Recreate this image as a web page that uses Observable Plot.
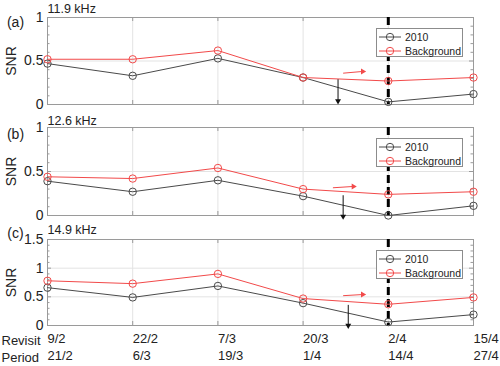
<!DOCTYPE html>
<html>
<head>
<meta charset="utf-8">
<script src="https://cdn.jsdelivr.net/npm/d3@7"></script>
<script src="https://cdn.jsdelivr.net/npm/@observablehq/plot@0.6"></script>
<style>
  html, body { margin: 0; padding: 0; background: #fff; }
  #chart { position: relative; width: 500px; height: 366px; font-family: "Liberation Sans", Arial, sans-serif; overflow: hidden; }
  #chart svg { position: absolute; left: 0; overflow: visible; }
  .legend { position: absolute; background: #fff; border: 1px solid #8c8c8c; box-sizing: border-box; font-size: 10.5px; color: #222; }
  .legend .row { position: absolute; left: 1px; height: 14px; display: flex; align-items: center; }
  .legend svg { position: static !important; }
</style>
</head>
<body>
<div id="chart"></div>
<script>
// ---- data ----
const xIndex = [0, 1, 2, 3, 4, 5];
const revisit = ["9/2", "22/2", "7/3", "20/3", "2/4", "15/4"];
const period = ["21/2", "6/3", "19/3", "1/4", "14/4", "27/4"];
const freqLabels = ["11.9 kHz", "12.6 kHz", "14.9 kHz"];
const panelTags = ["(a)", "(b)", "(c)"];
const seriesNames = ["2010", "Background"];

const snr2010A = [0.47, 0.33, 0.53, 0.31, 0.03, 0.12];
const snrBgA   = [0.52, 0.52, 0.62, 0.31, 0.27, 0.31];
const snr2010B = [0.39, 0.27, 0.40, 0.22, 0.00, 0.11];
const snrBgB   = [0.44, 0.42, 0.54, 0.30, 0.24, 0.27];
const snr2010C = [0.66, 0.49, 0.69, 0.39, 0.06, 0.19];
const snrBgC   = [0.78, 0.73, 0.90, 0.47, 0.37, 0.49];

const yMaxes = [1, 1, 1.5];
const eventIndex = 4; // dashed marker at 2/4

// arrows [x1, y1, x2, y2] in data units
const redArrows   = [[3.47, 0.36, 3.70, 0.38], [3.35, 0.315, 3.59, 0.33], [3.47, 0.52, 3.70, 0.54]];
const blackArrows = [[3.41, 0.29, 3.41, 0.04], [3.47, 0.23, 3.47, -0.01], [3.53, 0.36, 3.53, 0.0]];

// ---- styles / layout ----
const GRAY = "#4a4a4a", RED = "#f24a4a", FRAME = "#9a9a9a", GRID = "#e3e3e3", INK = "#222";
const W = 500, ML = 47, MR = 27;
const FW = W - ML - MR;
const panels = [
  {top: 0,   height: 110, mt: 17, mb: 6,  s2010: snr2010A, sBg: snrBgA, titleDy: -8.5, tagDy: 5},
  {top: 110, height: 110, mt: 17, mb: 5,  s2010: snr2010B, sBg: snrBgB, titleDy: -6.5, tagDy: 7},
  {top: 220, height: 146, mt: 19, mb: 41, s2010: snr2010C, sBg: snrBgC, titleDy: -9.5, tagDy: -6}
];

const chart = document.getElementById("chart");
const font = '"Liberation Sans", Arial, sans-serif';

panels.forEach((p, i) => {
  const yMax = yMaxes[i];
  const FH = p.height - p.mt - p.mb;
  const major = d3.range(0, yMax + 1e-9, 0.5);
  const minor = d3.range(0, yMax + 1e-9, 0.1).filter(v => Math.abs(v * 2 - Math.round(v * 2)) > 1e-6);
  const rows = xIndex.map(k => ({k, a: p.s2010[k], b: p.sBg[k]}));
  const ra = redArrows[i], ba = blackArrows[i];
  const isLast = i === panels.length - 1;

  const marks = [
    Plot.gridX(xIndex, {x: d => d, stroke: GRID, strokeOpacity: 1}),
    Plot.gridY(major.filter(v => v > 0 && v < yMax), {y: d => d, stroke: GRID, strokeOpacity: 1}),
    // inward ticks
    Plot.ruleY(major, {y: d => d, stroke: FRAME, insetRight: FW - 4}),
    Plot.ruleY(major, {y: d => d, stroke: FRAME, insetLeft: FW - 4}),
    Plot.ruleY(minor, {y: d => d, stroke: FRAME, insetRight: FW - 2.5}),
    Plot.ruleY(minor, {y: d => d, stroke: FRAME, insetLeft: FW - 2.5}),
    Plot.ruleX(xIndex, {x: d => d, stroke: FRAME, insetTop: FH - 4}),
    Plot.ruleX(xIndex, {x: d => d, stroke: FRAME, insetBottom: FH - 4}),
    Plot.frame({stroke: FRAME}),
    // dashed event line
    Plot.ruleX([eventIndex], {x: d => d, stroke: "#000", strokeWidth: 3, strokeDasharray: "8,4"}),
    // series
    Plot.line(rows, {x: "k", y: "a", stroke: GRAY, strokeWidth: 1}),
    Plot.dot(rows, {x: "k", y: "a", stroke: GRAY, fill: "none", r: 3.7, strokeWidth: 1}),
    Plot.line(rows, {x: "k", y: "b", stroke: RED, strokeWidth: 1}),
    Plot.dot(rows, {x: "k", y: "b", stroke: RED, fill: "none", r: 3.7, strokeWidth: 1}),
    // arrows
    Plot.link([ra], {x1: d => d[0], y1: d => d[1], x2: d => d[2], y2: d => d[3], stroke: RED, strokeWidth: 1}),
    Plot.dot([ra], {x: d => d[2], y: d => d[3], symbol: "triangle", r: 2.2, fill: RED, stroke: "none", rotate: 90}),
    Plot.link([ba], {x1: d => d[0], y1: d => d[1], x2: d => d[2], y2: d => d[3], stroke: "#111", strokeWidth: 1}),
    Plot.dot([ba], {x: d => d[2], y: d => d[3], symbol: "triangle", r: 2.2, fill: "#111", stroke: "none", rotate: 180}),
    // y axis
    Plot.axisY(major, {tickSize: 0, tickPadding: 4, fontSize: 14, fill: INK,
      tickFormat: d => String(d), label: "SNR", labelAnchor: "center", labelArrow: "none", labelOffset: 41}),
    // titles
    Plot.text([freqLabels[i]], {text: d => d, frameAnchor: "top-left", textAnchor: "start", lineAnchor: "middle", dy: p.titleDy, fontSize: 12.5, fill: INK}),
    Plot.text([panelTags[i]], {text: d => d, frameAnchor: "top-left", textAnchor: "middle", lineAnchor: "middle", dx: -32, dy: p.tagDy, fontSize: 14, fill: INK})
  ];
  if (isLast) {
    marks.push(
      Plot.axisX(xIndex, {anchor: "bottom", tickSize: 0, tickPadding: 0, dy: 8, dx: 0, textAnchor: "start", fontSize: 13, fill: INK, tickFormat: k => revisit[k], label: null}),
      Plot.axisX(xIndex, {anchor: "bottom", tickSize: 0, tickPadding: 0, dy: 25, dx: 0, textAnchor: "start", fontSize: 13, fill: INK, tickFormat: k => period[k], label: null}),
      Plot.text(["Revisit"], {text: d => d, frameAnchor: "bottom-left", textAnchor: "start", lineAnchor: "middle", dx: -46, dy: 15, fontSize: 13, fill: INK}),
      Plot.text(["Period"], {text: d => d, frameAnchor: "bottom-left", textAnchor: "start", lineAnchor: "middle", dx: -46, dy: 32, fontSize: 13, fill: INK})
    );
  }

  const svg = Plot.plot({
    width: W, height: p.height,
    marginLeft: ML, marginRight: MR, marginTop: p.mt, marginBottom: p.mb,
    style: {fontFamily: font, background: "transparent", overflow: "visible"},
    x: {type: "linear", domain: [0, 5], axis: null},
    y: {domain: [0, yMax], axis: null},
    marks
  });
  svg.style.top = p.top + "px";
  chart.appendChild(svg);

  // legend (HTML overlay inside top-right of frame)
  const lg = document.createElement("div");
  lg.className = "legend";
  lg.style.left = "376px";
  lg.style.top = (p.top + p.mt + 11) + "px";
  lg.style.width = "87px";
  lg.style.height = "29px";
  [[seriesNames[0], GRAY, 1], [seriesNames[1], RED, 15]].forEach(([name, col, t]) => {
    const row = document.createElement("div");
    row.className = "row";
    row.style.top = t + "px";
    row.innerHTML = `<svg width="26" height="14"><line x1="1" x2="23" y1="7" y2="7" stroke="${col}" stroke-width="1"/><circle cx="12" cy="7" r="3.7" fill="none" stroke="${col}"/></svg><span style="margin-left:1px">${name}</span>`;
    lg.appendChild(row);
  });
  chart.appendChild(lg);
});
</script>
</body>
</html>
